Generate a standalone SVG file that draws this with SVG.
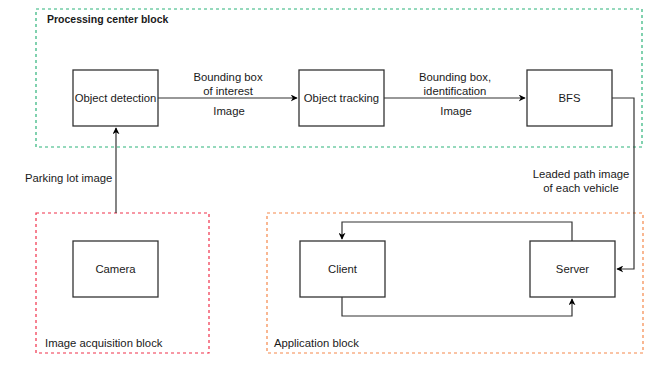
<svg xmlns="http://www.w3.org/2000/svg" width="667" height="366" viewBox="0 0 667 366">
<defs>
<marker id="arr" viewBox="0 0 10 10" refX="9" refY="5" markerWidth="7" markerHeight="7" markerUnits="userSpaceOnUse" orient="auto">
<path d="M0,0 L10,5 L0,10 L3,5 Z" fill="#000"/>
</marker>
<style>
text{font-family:"Liberation Sans",Arial,sans-serif;font-size:11.3px;fill:#1a1a1a}
.node{fill:#fff;stroke:#333;stroke-width:1.3}
.mid{text-anchor:middle}
.edge{fill:none;stroke:#333;stroke-width:1.2}
.blk{fill:none;stroke-width:1.2;stroke-dasharray:3,3}
</style>
</defs>
<rect width="667" height="366" fill="#fff"/>
<g id="processing-block">
<rect class="blk" x="36" y="9" width="606" height="138" stroke="#2db37a"/>
<text x="47" y="23" style="font-weight:bold;font-size:10.5px">Processing center block</text>
</g>
<g id="acquisition-block">
<rect class="blk" x="36" y="213" width="173" height="140" stroke="#f0304a"/>
<text x="45" y="347">Image acquisition block</text>
</g>
<g id="application-block">
<rect class="blk" x="267" y="213" width="376" height="140" stroke="#f5884a"/>
<text x="274" y="347">Application block</text>
</g>
<g id="connectors">
<path class="edge" d="M158,98 H297" marker-end="url(#arr)"/>
<text class="mid" x="228" y="81">Bounding box</text>
<text class="mid" x="228" y="95">of interest</text>
<text class="mid" x="229" y="115">Image</text>
<path class="edge" d="M384,98 H525" marker-end="url(#arr)"/>
<text class="mid" x="455" y="81">Bounding box,</text>
<text class="mid" x="455" y="95">identification</text>
<text class="mid" x="456" y="115">Image</text>
<path class="edge" d="M116,213 V128" marker-end="url(#arr)"/>
<text x="25" y="182">Parking lot image</text>
<path class="edge" d="M612,98 H634 V269 H617" marker-end="url(#arr)"/>
<text class="mid" x="581" y="178">Leaded path image</text>
<text class="mid" x="581" y="192">of each vehicle</text>
<path class="edge" d="M572,241 V222 H342 V239" marker-end="url(#arr)"/>
<path class="edge" d="M342,297 V316 H572 V299" marker-end="url(#arr)"/>
</g>
<g id="object-detection">
<rect class="node" x="73" y="70" width="85" height="56"/>
<text class="mid" x="115.5" y="102">Object detection</text>
</g>
<g id="object-tracking">
<rect class="node" x="299" y="70" width="85" height="56"/>
<text class="mid" x="341.5" y="102">Object tracking</text>
</g>
<g id="bfs">
<rect class="node" x="527" y="70" width="85" height="56"/>
<text class="mid" x="569.5" y="102">BFS</text>
</g>
<g id="camera">
<rect class="node" x="73" y="241" width="85" height="56"/>
<text class="mid" x="115.5" y="273">Camera</text>
</g>
<g id="client">
<rect class="node" x="300" y="241" width="85" height="56"/>
<text class="mid" x="342.5" y="273">Client</text>
</g>
<g id="server">
<rect class="node" x="530" y="241" width="85" height="56"/>
<text class="mid" x="572.5" y="273">Server</text>
</g>
</svg>
